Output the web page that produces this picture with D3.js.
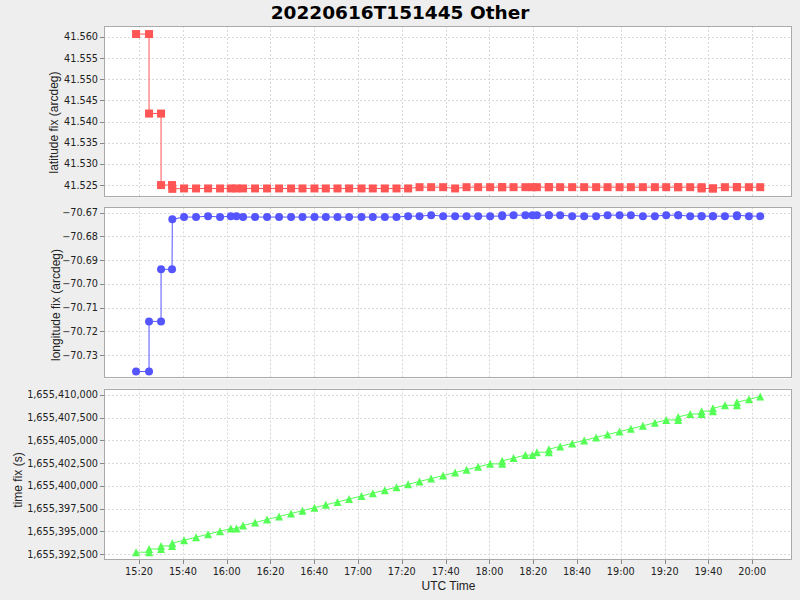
<!DOCTYPE html>
<html><head><meta charset="utf-8">
<script src="https://cdn.jsdelivr.net/npm/d3@7"></script>
<style>body{margin:0;background:#EEEEEE;}svg{display:block;}</style>
</head><body>
<svg id="chart" width="800" height="600"></svg>
<script>
const times = ["15:18:38","15:24:34","15:24:34","15:30:03","15:30:03","15:35:04","15:35:12","15:40:33","15:46:02","15:51:31",
"15:57:00","16:01:53","16:04:29","16:07:30","16:12:59","16:18:28","16:23:57","16:29:26","16:34:38","16:40:07",
"16:45:17","16:50:37","16:55:55","17:01:35","17:06:45","17:12:14","17:17:34","17:22:52","17:28:05","17:33:23",
"17:38:52","17:44:20","17:49:33","17:54:51","18:00:20","18:05:49","18:05:49","18:11:01","18:16:25","18:19:37",
"18:21:40","18:27:08","18:27:08","18:32:18","18:37:47","18:43:16","18:48:44","18:53:57","18:59:26","19:04:35",
"19:10:04","19:15:33","19:20:43","19:26:12","19:26:12","19:31:41","19:36:53","19:36:53","19:42:03","19:42:03",
"19:47:32","19:53:01","19:53:01","19:58:30","20:03:40"];

const latFix = [41.5607,41.5607,41.5419,41.5419,41.5250,41.5250,41.5241,41.5242,41.5242,41.5242,
41.5242,41.5242,41.5242,41.5242,41.5242,41.5242,41.5242,41.5242,41.5242,41.5242,
41.5242,41.5242,41.5242,41.5242,41.5242,41.5242,41.5242,41.5242,41.5245,41.5245,
41.5245,41.5242,41.5245,41.5245,41.5245,41.5245,41.5245,41.5245,41.5245,41.5245,
41.5245,41.5245,41.5245,41.5245,41.5245,41.5245,41.5245,41.5245,41.5245,41.5245,
41.5245,41.5245,41.5245,41.5245,41.5245,41.5245,41.5245,41.5242,41.5242,41.5242,
41.5245,41.5245,41.5245,41.5245,41.5245];

const lonFix = [-70.7369,-70.7369,-70.7158,-70.7158,-70.6939,-70.6939,-70.6728,-70.6719,-70.6719,-70.6715,
-70.6719,-70.6715,-70.6715,-70.6719,-70.6719,-70.6719,-70.6719,-70.6719,-70.6719,-70.6719,
-70.6719,-70.6719,-70.6719,-70.6719,-70.6719,-70.6719,-70.6719,-70.6715,-70.6715,-70.6711,
-70.6715,-70.6715,-70.6715,-70.6715,-70.6715,-70.6715,-70.6711,-70.6711,-70.6711,-70.6711,
-70.6711,-70.6711,-70.6711,-70.6711,-70.6715,-70.6715,-70.6715,-70.6711,-70.6711,-70.6711,
-70.6715,-70.6715,-70.6711,-70.6711,-70.6711,-70.6715,-70.6715,-70.6715,-70.6715,-70.6715,
-70.6715,-70.6715,-70.6711,-70.6715,-70.6715];

const timeFix = [1655392718,1655392718,1655393074,1655393074,1655393403,1655393403,1655393712,1655394033,1655394362,1655394691,
1655395020,1655395313,1655395313,1655395650,1655395979,1655396308,1655396637,1655396966,1655397278,1655397607,
1655397917,1655398237,1655398555,1655398895,1655399205,1655399534,1655399854,1655400172,1655400485,1655400803,
1655401132,1655401460,1655401773,1655402091,1655402420,1655402420,1655402749,1655403061,1655403385,1655403385,
1655403700,1655403700,1655404028,1655404338,1655404667,1655404996,1655405324,1655405637,1655405966,1655406275,
1655406604,1655406933,1655407243,1655407243,1655407572,1655407901,1655407901,1655408213,1655408213,1655408523,
1655408852,1655408852,1655409181,1655409510,1655409820];

const xTickLabels = ["15:20","15:40","16:00","16:20","16:40","17:00","17:20","17:40","18:00","18:20","18:40","19:00","19:20","19:40","20:00"];
const xDomainLabels = ["15:04:00","20:18:10"];
const latTicks = [41.525,41.530,41.535,41.540,41.545,41.550,41.555,41.560];
const lonTicks = [-70.73,-70.72,-70.71,-70.70,-70.69,-70.68,-70.67];
const timeFixTicks = [1655392500,1655395000,1655397500,1655400000,1655402500,1655405000,1655407500,1655410000];
const latDomain = [41.5221, 41.5626];
const lonDomain = [-70.7399, -70.6678];
const timeFixDomain = [1655391860, 1655410680];

const svg = d3.select("#chart");
svg.append("rect").attr("width",800).attr("height",600).attr("fill","#EEEEEE");

const parseT = d3.utcParse("%H:%M:%S");
const parseHM = d3.utcParse("%H:%M");
const L = 104, R = 792, T = 26, B = 560, GAP = 10;
const PH = (B - T - 2*GAP) / 3;

const x = d3.scaleTime().domain(xDomainLabels.map(parseT)).range([L, R]);
const xt = times.map(parseT);
const xTicks = xTickLabels.map(parseHM);

svg.append("text").attr("x",400).attr("y",19).attr("text-anchor","middle")
  .attr("font-family","DejaVu Sans").attr("font-weight","bold").attr("font-size",18.5)
  .attr("fill","#000").text("20220616T151445 Other");

const panels = [
  {vals: latFix, domain: latDomain, ticks: latTicks, fmt: d3.format(".3f"), color:"#FF5555", shape:"square", label:"latitude fix (arcdeg)", lx:57.5, ly:122.5},
  {vals: lonFix, domain: lonDomain, ticks: lonTicks, fmt: d3.format(".2f"), color:"#5555FF", shape:"circle", label:"longitude fix (arcdeg)", lx:59.5, ly:305},
  {vals: timeFix, domain: timeFixDomain, ticks: timeFixTicks, fmt: d3.format(",d"), color:"#55FF55", shape:"triangle", label:"time fix (s)", lx:21.5, ly:480}
];

const tickFont = "DejaVu Sans";
panels.forEach((p, i) => {
  const top = T + i*(PH + GAP), bot = top + PH;
  const y = d3.scaleLinear().domain(p.domain).range([bot, top]);
  const g = svg.append("g");
  g.append("rect").attr("x",L).attr("y",top).attr("width",R-L).attr("height",PH).attr("fill","#FFFFFF");
  g.selectAll(".vg").data(xTicks).enter().append("line")
    .attr("x1",d=>Math.round(x(d))+0.5).attr("x2",d=>Math.round(x(d))+0.5)
    .attr("y1",top).attr("y2",bot).attr("stroke","#D8D8D8").attr("stroke-width",1).attr("stroke-dasharray","2,2");
  g.selectAll(".hg").data(p.ticks).enter().append("line")
    .attr("y1",d=>Math.round(y(d))+0.5).attr("y2",d=>Math.round(y(d))+0.5)
    .attr("x1",L).attr("x2",R).attr("stroke","#D8D8D8").attr("stroke-width",1).attr("stroke-dasharray","2,2");
  g.selectAll(".yt").data(p.ticks).enter().append("line")
    .attr("x1",L-4).attr("x2",L).attr("y1",d=>Math.round(y(d))+0.5).attr("y2",d=>Math.round(y(d))+0.5)
    .attr("stroke","#888888");
  g.selectAll(".yl").data(p.ticks).enter().append("text")
    .attr("x",L-6).attr("y",d=>y(d)).attr("dy","0.36em").attr("text-anchor","end")
    .attr("font-family",tickFont).attr("font-size",9.7).attr("fill","#222222").text(d=>p.fmt(d));
  g.append("text").attr("transform",`translate(${p.lx},${p.ly}) rotate(-90)`).attr("text-anchor","middle")
    .attr("font-family","Liberation Sans").attr("font-size",12).attr("fill","#222222").text(p.label);
  g.append("rect").attr("x",L+0.5).attr("y",Math.round(top)+0.5).attr("width",R-L-1).attr("height",Math.round(PH)-1)
    .attr("fill","none").attr("stroke","#AAAAAA");
  const pts = p.vals.map((v,k)=>[x(xt[k]), y(v)]);
  g.append("path").attr("d", d3.line()(pts)).attr("fill","none").attr("stroke",p.color).attr("stroke-width",1);
  const mk = g.selectAll(".mk").data(pts).enter();
  if (p.shape === "square") {
    mk.append("rect").attr("x",d=>d[0]-4).attr("y",d=>d[1]-4).attr("width",8).attr("height",8).attr("fill",p.color);
  } else if (p.shape === "circle") {
    mk.append("circle").attr("cx",d=>d[0]).attr("cy",d=>d[1]).attr("r",4).attr("fill",p.color);
  } else {
    mk.append("path").attr("d",d=>`M${d[0]},${d[1]-4}L${d[0]+4},${d[1]+4}L${d[0]-4},${d[1]+4}Z`).attr("fill",p.color);
  }
});

svg.selectAll(".xt").data(xTicks).enter().append("line")
  .attr("x1",d=>Math.round(x(d))+0.5).attr("x2",d=>Math.round(x(d))+0.5).attr("y1",B).attr("y2",B+4).attr("stroke","#888888");
svg.selectAll(".xl").data(xTicks).enter().append("text")
  .attr("x",d=>x(d)).attr("y",574.5).attr("text-anchor","middle")
  .attr("font-family",tickFont).attr("font-size",9.7).attr("fill","#222222").text((d,i)=>xTickLabels[i]);
svg.append("text").attr("x",448.5).attr("y",590).attr("text-anchor","middle")
  .attr("font-family","Liberation Sans").attr("font-size",12).attr("fill","#222222").text("UTC Time");
</script>
</body></html>
